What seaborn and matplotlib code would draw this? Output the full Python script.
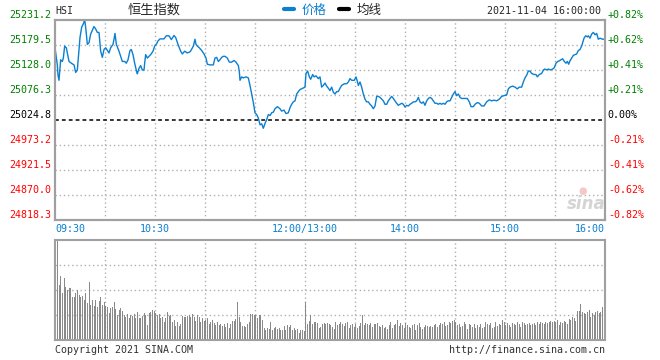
import pandas as pd
import seaborn as sns
import matplotlib.pyplot as plt
from matplotlib.lines import Line2D

# HSI intraday, trading minutes counted from 09:30 (lunch break removed)
price_min = [0, 1.4, 1.8, 2.4, 3.4, 4.4, 5, 5.8, 6.8, 8.4, 9.8, 11.4, 12.4, 13.4, 14, 15, 16, 17, 17.8, 18.4,
             19, 19.4, 20.4, 21.4, 22.8, 23.4, 24.4, 25.4, 26.4, 27.4, 28.4, 29.4, 30.4, 32.4, 33.4, 34.8, 35.4,
             36, 36.8, 38.4, 39.4, 40.4, 41.8, 42.8, 43.8, 45, 45.8, 46.8, 47.8, 49, 49.4, 50.4, 51.4, 52.4,
             53.4, 53.8, 54.4, 55.4, 56.4, 57.4, 58.8, 59.8, 61, 61.8, 63, 65.4, 66.8, 68.4, 69.8, 71.4, 72.4,
             73.8, 75.4, 76.4, 77.8, 79.4, 81, 81.8, 83,
             84, 84.6, 85.4, 86.6, 88, 89.4, 90.6, 91.4, 93, 95, 96, 97, 98, 99, 100, 101, 102, 103.4, 104.6,
             106, 107.4, 108.6, 110, 110.6, 111, 112, 113, 114.6, 116, 117, 118, 119, 120, 121, 122, 123, 124,
             125, 126, 127, 128, 129, 130, 131, 132, 133.4, 135, 136, 137.4, 138.6, 140, 141, 142, 143, 144,
             145, 146, 147, 148.6, 150, 150.6, 151.6, 152.6, 153.4, 154.6, 155.4, 156.6, 158, 159, 160, 161,
             162, 163, 164, 165,
             166, 167, 168, 169, 170, 171, 172, 173.6, 175, 176, 177, 178, 179.6, 180.6, 181.4, 182, 183, 184,
             185, 186, 187, 188, 189, 190, 191, 192, 193, 194, 195, 196, 197, 198, 199, 200, 201, 202, 203,
             204, 205, 206, 207, 208, 209, 210, 211, 212, 213, 214, 215, 216, 217, 218, 219, 220, 221, 222,
             223, 224, 225, 226, 227, 228, 229, 230, 231, 232, 233, 234, 235, 236, 237, 238, 239, 240, 241,
             242, 243, 244, 246,
             247.4, 248.6, 249.6, 251, 252, 253.4, 254.6, 256, 257.4, 259, 260.6, 262, 263.4, 265, 266.6, 268,
             269.4, 271, 272, 273, 274.6, 276, 277.4, 278.6, 280, 281, 282, 283, 284, 285, 286, 287.4, 288.6,
             289.4, 290.6, 292, 293, 294, 295, 296, 297.4, 298.6, 299.6, 300.6, 301.6, 302.6, 303.6, 304.6,
             305.6, 306.6, 307.4, 308.2, 309, 310, 311, 312, 313, 314, 315, 316, 316.6, 317.4, 318.4, 319.4,
             320, 321, 322, 323, 324, 325, 326, 327, 328.6, 330]
price_val = [25173.8, 25138.5, 25117.3, 25106.7, 25149.1, 25145.6, 25152.6, 25177.4, 25173.8, 25145.6, 25142.0,
             25138.5, 25123.0, 25127.9, 25152.6, 25195.1, 25216.3, 25223.3, 25231.2, 25216.3, 25193.6, 25180.9,
             25184.4, 25202.1, 25212.7, 25217.7, 25212.7, 25205.6, 25205.6, 25166.8, 25154.1, 25170.3, 25173.8,
             25163.2, 25173.8, 25180.9, 25191.5, 25203.5, 25180.9, 25166.8, 25156.2, 25145.6, 25145.6, 25142.0,
             25149.1, 25168.2, 25170.3, 25159.7, 25142.0, 25124.4, 25120.1, 25131.4, 25137.1, 25127.9, 25127.9,
             25142.0, 25159.7, 25152.6, 25156.2, 25159.7, 25166.8, 25177.4, 25182.3, 25188.0, 25192.2, 25192.2,
             25198.6, 25198.6, 25190.8, 25199.3, 25195.1, 25180.9, 25166.8, 25161.1, 25166.8, 25163.2, 25165.4,
             25169.6, 25177.4,
             25191.5, 25180.9, 25177.4, 25173.8, 25168.2, 25161.1, 25152.6, 25139.9, 25138.5, 25138.5, 25152.6,
             25154.1, 25145.6, 25149.1, 25154.1, 25156.2, 25156.2, 25152.6, 25144.2, 25144.2, 25147.7, 25144.2,
             25137.1, 25124.4, 25106.7, 25113.8, 25111.6, 25113.8, 25111.6, 25096.1, 25078.4, 25060.7, 25039.6,
             25036.0, 25028.9, 25014.8, 25017.0, 25007.7, 25017.7, 25025.4, 25036.0, 25033.9, 25039.6, 25041.0,
             25048.0, 25052.3, 25048.0, 25043.1, 25045.2, 25038.1, 25039.6, 25050.2, 25057.2, 25062.2, 25064.3,
             25078.4, 25083.4, 25087.6, 25090.4, 25092.6, 25120.8, 25125.8, 25113.8, 25108.8, 25118.7, 25113.8,
             25115.9, 25110.2, 25113.8, 25092.6, 25096.1, 25101.1, 25094.7, 25090.4, 25085.5,
             25092.6, 25082.0, 25078.4, 25083.4, 25083.4, 25090.4, 25096.1, 25099.6, 25099.6, 25103.2, 25110.2,
             25106.7, 25106.7, 25113.8, 25104.6, 25096.1, 25103.2, 25092.6, 25078.4, 25067.8, 25062.2, 25062.2,
             25057.2, 25053.7, 25048.0, 25053.7, 25073.5, 25073.5, 25071.4, 25067.8, 25064.3, 25057.2, 25057.2,
             25064.3, 25069.2, 25073.5, 25069.2, 25064.3, 25059.3, 25055.1, 25057.2, 25059.3, 25057.2, 25051.6,
             25055.1, 25053.7, 25057.2, 25059.3, 25062.2, 25062.2, 25064.3, 25071.4, 25062.2, 25059.3, 25062.2,
             25055.1, 25064.3, 25069.2, 25071.4, 25069.2, 25064.3, 25059.3, 25059.3, 25057.2, 25059.3, 25057.2,
             25059.3, 25057.2, 25062.2, 25064.3, 25064.3, 25071.4, 25078.4, 25083.4, 25075.0, 25078.4, 25071.4,
             25069.2, 25069.2,
             25069.2, 25062.2, 25052.3, 25052.3, 25057.2, 25060.7, 25059.3, 25053.7, 25053.7, 25062.2, 25066.4,
             25064.3, 25065.7, 25064.3, 25067.8, 25073.5, 25075.0, 25076.3, 25089.0, 25092.6, 25094.7, 25092.6,
             25089.0, 25092.6, 25092.6, 25103.2, 25111.6, 25117.3, 25125.8, 25125.8, 25120.8, 25118.7, 25118.7,
             25113.8, 25118.7, 25120.8, 25128.0, 25130.0, 25128.0, 25130.0, 25128.0, 25130.0, 25132.8, 25142.0,
             25145.6, 25147.0, 25149.1, 25151.2, 25145.6, 25142.0, 25145.6, 25139.9, 25147.0, 25152.6, 25158.3,
             25159.7, 25161.1, 25168.2, 25170.3, 25177.4, 25184.4, 25193.6, 25198.6, 25196.4, 25198.6, 25193.6,
             25202.1, 25205.6, 25200.7, 25203.5, 25191.5, 25193.6, 25191.5, 25191.5]

# per-minute volume, relative (100 = panel top)
vol_am = [76, 100, 55, 64, 47, 62, 53, 50, 52, 52, 43, 43, 47, 50, 45, 43, 44, 40, 47, 37, 58, 35, 40, 34,
          40, 33, 39, 43, 35, 38, 34, 33, 27, 32, 33, 38, 31, 25, 30, 32, 29, 25, 23, 26, 22, 25, 24, 26,
          22, 28, 22, 22, 24, 27, 25, 15, 27, 28, 30, 29, 27, 25, 26, 22, 23, 18, 22, 28, 24, 25, 18, 20,
          14, 18, 14, 16, 24, 23, 23, 24, 25, 23, 26, 23, 19, 25, 23, 18, 22, 19, 20, 22, 16, 18, 20, 17,
          15, 18, 15, 16, 14, 16, 13, 17, 12, 16, 19, 19, 21, 38, 23, 18, 14, 14, 13, 16, 18, 26, 26, 25,
          25, 22, 25, 25, 20, 12, 10, 12, 11, 18, 10, 12, 13, 11, 12, 10, 10, 14, 10, 15, 13, 15, 10, 12,
          10, 11, 7, 10, 10, 9]
vol_pm = [38, 16, 19, 25, 16, 18, 18, 17, 12, 13, 16, 17, 16, 17,
          16, 15, 13, 11, 18, 15, 16, 18, 16, 14, 17, 18, 12, 15, 16,
          13, 16, 12, 14, 17, 25, 15, 17, 16, 15, 17, 13, 16, 16, 17,
          14, 13, 15, 12, 13, 11, 15, 18, 12, 15, 16, 20, 14, 17, 15,
          12, 17, 15, 13, 12, 15, 16, 10, 15, 17, 13, 11, 13, 15, 14,
          13, 14, 13, 15, 16, 13, 15, 17, 16, 18, 14, 15, 18, 17, 19,
          20, 18, 15, 16, 13, 14, 18, 16, 11, 16, 15, 13, 16, 12, 15,
          13, 16, 12, 13, 18, 16, 15, 17, 12, 13, 18, 14, 16, 15, 20,
          18, 15, 17, 15, 13, 17, 16, 15, 18, 16, 13, 18, 17, 15, 16,
          17, 15, 16, 17, 15, 18, 16, 18, 17, 16, 18, 17, 18, 19, 18,
          19, 18, 20, 15, 18, 17, 19, 18, 16, 21, 20, 23, 22, 19, 29,
          29, 36, 28, 27, 26, 28, 30, 23, 27, 25, 28, 29, 27, 28, 33, 35]

prev_close = 25024.8
price_ticks = [24818.3, 24870.0, 24921.5, 24973.2, 25024.8, 25076.3, 25128.0, 25179.5, 25231.2]
price_labels = ['24818.3', '24870.0', '24921.5', '24973.2', '25024.8', '25076.3', '25128.0', '25179.5', '25231.2']
pct_labels = ['-0.82%', '-0.62%', '-0.41%', '-0.21%', '0.00%', '+0.21%', '+0.41%', '+0.62%', '+0.82%']
time_pos = [0, 60, 150, 210, 270, 330]
time_labels = ['09:30', '10:30', '12:00/13:00', '14:00', '15:00', '16:00']

BLUE = '#0b7fd0'
GREEN = '#008000'
RED = '#ff0000'
FRAME = '#a0a0a0'
GRID = '#b0b0b0'
MONO = ['DejaVu Sans Mono']
CJK = ['Noto Sans CJK SC', 'DejaVu Sans']

sns.set_style('white')
plt.rcParams['font.family'] = MONO

W, H = 660, 360
fig = plt.figure(figsize=(6.6, 3.6), dpi=100)
ax = fig.add_axes([55 / W, 140 / H, 550 / W, 200 / H])
axv = fig.add_axes([55 / W, 20 / H, 550 / W, 100 / H])


def label_color(v):
    if v > prev_close + 0.01:
        return GREEN
    if v < prev_close - 0.01:
        return RED
    return 'black'


# price panel
for m in range(30, 330, 30):
    ax.axvline(m, color=GRID, lw=1, ls=(0, (1, 2)), zorder=0)
for v in price_ticks[1:-1]:
    if v != prev_close:
        ax.axhline(v, color=GRID, lw=1, ls=(0, (1, 2)), zorder=0)
ax.axhline(prev_close, color='black', lw=1.1, ls=(0, (2.5, 2)), zorder=1)

sns.lineplot(x=price_min, y=price_val, ax=ax, color=BLUE, lw=1.0, estimator=None, sort=False, zorder=3)

ax.set_xlim(0, 330)
ax.set_ylim(price_ticks[0], price_ticks[-1])
ax.set_yticks(price_ticks)
ax.set_yticklabels(price_labels, fontsize=7.2)
for t, v in zip(ax.get_yticklabels(), price_ticks):
    t.set_color(label_color(v))
    t.set_verticalalignment('bottom')
ax.tick_params(axis='y', length=0, pad=3)

ax.set_xticks(time_pos)
ax.set_xticklabels(time_labels, fontsize=7.2, color=BLUE)
xt = ax.get_xticklabels()
xt[0].set_horizontalalignment('left')
xt[-1].set_horizontalalignment('right')
ax.tick_params(axis='x', length=0, pad=3)
ax.set_xlabel('')
ax.set_ylabel('')

ax2 = ax.twinx()
ax2.set_ylim(price_ticks[0], price_ticks[-1])
ax2.set_yticks(price_ticks)
ax2.set_yticklabels(pct_labels, fontsize=7.2)
for t, v in zip(ax2.get_yticklabels(), price_ticks):
    t.set_color(label_color(v))
    t.set_verticalalignment('bottom')
ax2.tick_params(axis='y', length=0, pad=2)

for a in (ax, ax2):
    for s in a.spines.values():
        s.set_color(FRAME)
        s.set_linewidth(1.5)

# volume panel
vol = vol_am + vol_pm
vdf = pd.DataFrame({'minute': [i + 0.5 for i in range(len(vol))], 'volume': vol})
for m in range(30, 330, 30):
    axv.axvline(m, color=GRID, lw=1, ls=(0, (1, 2)), zorder=0)
for v in (25, 50, 75):
    axv.axhline(v, color=GRID, lw=1, ls=(0, (1, 2)), zorder=0)
sns.barplot(data=vdf, x='minute', y='volume', ax=axv, native_scale=True, width=0.7,
            color='#8a8a8a', saturation=1, errorbar=None, linewidth=0, zorder=2)
axv.set_xlim(0, 330)
axv.set_ylim(0, 100)
axv.set_xticks([])
axv.set_yticks([])
axv.set_xlabel('')
axv.set_ylabel('')
for s in axv.spines.values():
    s.set_color(FRAME)
    s.set_linewidth(1.5)

# header
fig.text(55 / W, 1 - 14 / H, 'HSI', fontsize=7.2, family=MONO, va='baseline')
fig.text(154 / W, 1 - 10 / H, '恒生指数', fontsize=9.5, family=CJK, ha='center', va='center')
leg = fig.legend(handles=[Line2D([], [], color=BLUE, lw=3), Line2D([], [], color='black', lw=3)],
                 labels=['价格', '均线'], ncol=2, loc='center left',
                 bbox_to_anchor=(284 / W, 1 - 10 / H), frameon=False,
                 handlelength=0.8, handletextpad=0.6, columnspacing=1.0,
                 prop={'family': CJK, 'size': 9}, borderaxespad=0, borderpad=0)
leg.get_texts()[0].set_color(BLUE)
fig.text(601 / W, 1 - 14 / H, '2021-11-04 16:00:00', fontsize=7.2, family=MONO, ha='right', va='baseline')

# footer and watermark
fig.text(55 / W, 1 - 350 / H, 'Copyright 2021 SINA.COM', fontsize=7.2, family=MONO, color='#333333', va='center')
fig.text(605 / W, 1 - 350 / H, 'http://finance.sina.com.cn', fontsize=7.2, family=MONO, color='#333333',
         ha='right', va='center')
fig.text(586 / W, 1 - 204 / H, 'sina', fontsize=12, family=['DejaVu Sans'], style='italic', weight='bold',
         color='#d4d4d4', ha='center', va='center')
fig.text(583 / W, 1 - 191 / H, '●', fontsize=7, family=['DejaVu Sans'], color='#f5c8c8', ha='center', va='center')

fig.savefig('out.png', dpi=100)
